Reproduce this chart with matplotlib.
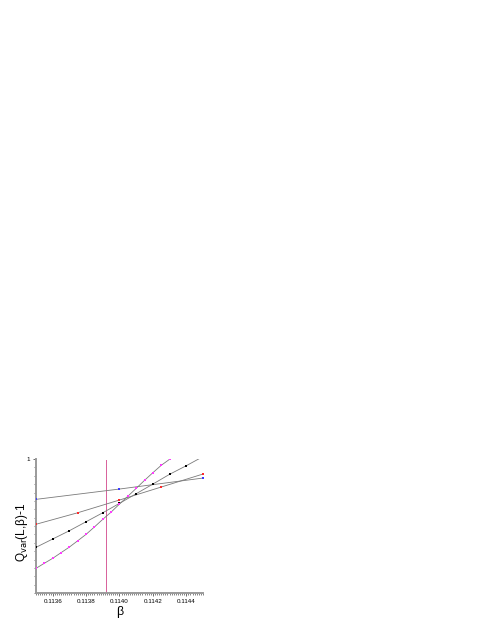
import numpy as np
import matplotlib
matplotlib.use('Agg')
import matplotlib.pyplot as plt
from matplotlib.ticker import MultipleLocator, FixedLocator

plt.rcParams['font.family'] = ['Liberation Sans', 'DejaVu Sans']

# beta values for each lattice size
beta_blue = [0.1135, 0.1140, 0.1145]
q_blue = [0.699, 0.776, 0.858]

beta_red = [0.1135, 0.11375, 0.1140, 0.11425, 0.1145]
q_red = [0.513, 0.599, 0.694, 0.791, 0.888]

beta_black = [0.1135, 0.1136, 0.1137, 0.1138, 0.1139, 0.1140,
              0.1141, 0.1142, 0.1143, 0.1144, 0.1145]
q_black = [0.341, 0.403, 0.465, 0.532, 0.599, 0.669,
           0.741, 0.813, 0.886, 0.950, 1.018]

beta_mag = [0.1135, 0.11355, 0.1136, 0.11365, 0.1137, 0.11375, 0.1138, 0.11385,
            0.1139, 0.11395, 0.1140, 0.11405, 0.1141, 0.11415, 0.1142, 0.11425, 0.1143]
q_mag = [0.184, 0.222, 0.259, 0.301, 0.343, 0.390, 0.438, 0.493,
         0.550, 0.604, 0.664, 0.722, 0.781, 0.841, 0.898, 0.953, 0.998]

beta_c = 0.11392
xticks = [0.1136, 0.1138, 0.1140, 0.1142, 0.1144]

fig = plt.figure(figsize=(4.85, 6.27), dpi=100)
ax = fig.add_axes([0.0742, 0.0542, 0.3443, 0.2137])

series = [(beta_blue, q_blue, '#3a3aff'),
          (beta_red, q_red, '#ff2a2a'),
          (beta_black, q_black, 'black'),
          (beta_mag, q_mag, '#ff3cff')]
for bx, qy, c in series:
    ax.plot(bx, qy, '-', color='#7a7a7a', lw=0.6, zorder=2)
    ax.plot(bx, qy, 's', color=c, ms=2.0, mew=0, zorder=3)

ax.axvline(beta_c, ymin=0, ymax=0.99, color='#d8609a', lw=0.7, zorder=1)

ax.set_xlim(0.1135, 0.1145)
ax.set_ylim(0, 1)

ax.xaxis.set_major_locator(FixedLocator(xticks))
ax.set_xticklabels(['%.4f' % t for t in xticks])
ax.xaxis.set_minor_locator(MultipleLocator(0.0000125))
ax.yaxis.set_major_locator(FixedLocator([1.0]))
ax.set_yticklabels(['1'])
ax.yaxis.set_minor_locator(MultipleLocator(0.0625))

ax.tick_params(axis='both', which='major', direction='out', length=2.5,
               width=0.6, labelsize=4.5, pad=2, color='#555555')
ax.tick_params(axis='both', which='minor', direction='out', length=1.5,
               width=0.5, color='#555555')

for s in ['top', 'right']:
    ax.spines[s].set_visible(False)
for s in ['left', 'bottom']:
    ax.spines[s].set_color('#9a9a9a')
    ax.spines[s].set_linewidth(1.4)

ax.set_xlabel('β', fontsize=9, labelpad=1)
ax.set_ylabel('Q$_{\\mathrm{var}}$(L,β)-1', fontsize=8.5)
ax.yaxis.set_label_coords(-0.035, 0.45)

fig.savefig('out.png', dpi=100)
